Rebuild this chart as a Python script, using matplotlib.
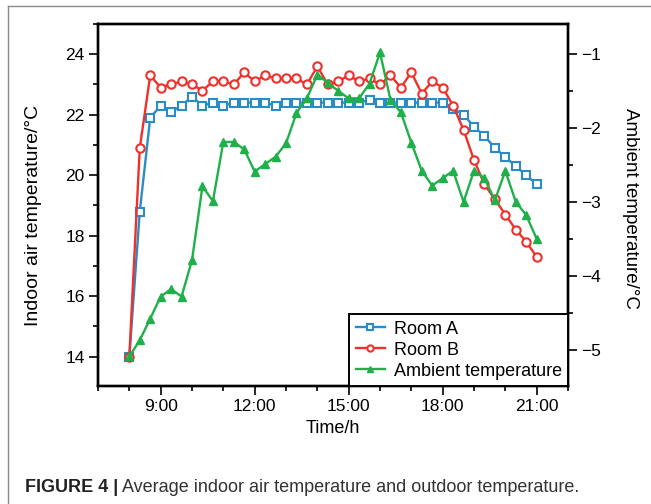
import matplotlib.pyplot as plt
from matplotlib.lines import Line2D
from matplotlib.ticker import MultipleLocator

plt.rcParams['font.family'] = ['Liberation Sans', 'DejaVu Sans']
plt.rcParams['axes.unicode_minus'] = True

# measurement times, every 20 minutes
times = ["8:00", "8:20", "8:40", "9:00", "9:20", "9:40", "10:00", "10:20", "10:40",
         "11:00", "11:20", "11:40", "12:00", "12:20", "12:40", "13:00", "13:20", "13:40",
         "14:00", "14:20", "14:40", "15:00", "15:20", "15:40", "16:00", "16:20", "16:40",
         "17:00", "17:20", "17:40", "18:00", "18:20", "18:40", "19:00", "19:20", "19:40",
         "20:00", "20:20", "20:40", "21:00"]

room_a = [14.0, 18.8, 21.9, 22.3, 22.1, 22.3, 22.6, 22.3, 22.4, 22.3,
          22.4, 22.4, 22.4, 22.4, 22.3, 22.4, 22.4, 22.4, 22.4, 22.4,
          22.4, 22.4, 22.4, 22.5, 22.4, 22.4, 22.4, 22.4, 22.4, 22.4,
          22.4, 22.2, 22.0, 21.6, 21.3, 20.9, 20.6, 20.3, 20.0, 19.7]

room_b = [14.0, 20.9, 23.3, 22.9, 23.0, 23.1, 23.0, 22.8, 23.1, 23.1,
          23.0, 23.4, 23.1, 23.3, 23.2, 23.2, 23.2, 23.0, 23.6, 23.0,
          23.1, 23.3, 23.1, 23.2, 23.0, 23.3, 22.9, 23.4, 22.7, 23.1,
          22.9, 22.3, 21.5, 20.5, 19.7, 19.2, 18.7, 18.2, 17.8, 17.3]

ambient = [-5.09, -4.87, -4.58, -4.28, -4.18, -4.28, -3.79, -2.79, -2.99, -2.19,
           -2.19, -2.29, -2.59, -2.49, -2.39, -2.21, -1.80, -1.60, -1.28, -1.39,
           -1.50, -1.60, -1.60, -1.40, -0.98, -1.62, -1.79, -2.20, -2.58, -2.78,
           -2.68, -2.58, -3.00, -2.58, -2.68, -2.98, -2.58, -3.00, -3.18, -3.50]

tick_hours = [9, 12, 15, 18, 21]
tick_labels = ["9:00", "12:00", "15:00", "18:00", "21:00"]

hours = [int(h) + int(m) / 60 for h, m in (t.split(":") for t in times)]

BLUE = "#2a8cc6"
RED = "#f0302a"
GREEN = "#1fb04a"

W, H = 651, 504
fig = plt.figure(figsize=(W / 100, H / 100), dpi=100)
ax = fig.add_axes([98 / W, 1 - 386 / H, (568 - 98) / W, (386 - 24) / H])
ax2 = ax.twinx()

la, = ax.plot(hours, room_a, color=BLUE, lw=1.7, marker="s", ms=5.5,
              mfc="white", mec=BLUE, mew=1.5)
lb, = ax.plot(hours, room_b, color=RED, lw=1.7, marker="o", ms=6,
              mfc="white", mec=RED, mew=1.5)
lc, = ax2.plot(hours, ambient, color=GREEN, lw=1.7, marker="^", ms=6,
               mfc=GREEN, mec=GREEN)

ax.set_xlim(7, 22)
ax.set_ylim(13.03, 25.0)
ax2.set_ylim(-5.49, -0.595)

ax.set_xticks(tick_hours)
ax.set_xticklabels(tick_labels)
ax.xaxis.set_minor_locator(MultipleLocator(1))
ax.yaxis.set_major_locator(MultipleLocator(2))
ax.yaxis.set_minor_locator(MultipleLocator(1))
ax2.yaxis.set_major_locator(MultipleLocator(1))
ax2.yaxis.set_minor_locator(MultipleLocator(0.5))

for a in (ax, ax2):
    for s in a.spines.values():
        s.set_linewidth(1.7)
    a.tick_params(which="major", length=6.5, width=1.2, labelsize=12.5, pad=3)
    a.tick_params(which="minor", length=3.5, width=1.2)

ax.set_xlabel("Time/h", fontsize=13, labelpad=4)
ax.set_ylabel("Indoor air temperature/\u00b0C", fontsize=14)
ax.yaxis.set_label_coords(-0.12, 0.47)
ax2.set_ylabel("Ambient temperature/\u00b0C", fontsize=13.5, rotation=270, va="center")
ax2.yaxis.set_label_coords(1.132, 0.49)

leg = ax2.legend([la, lb, lc], ["Room A", "Room B", "Ambient temperature"],
                 loc="lower right", borderaxespad=0, fancybox=False,
                 edgecolor="black", fontsize=13, handlelength=1.6,
                 markerscale=0.75, labelspacing=0.22, borderpad=0.35,
                 handletextpad=0.5)
leg.get_frame().set_linewidth(1.4)
leg.get_frame().set_alpha(1)

# frame lines of the figure panel
fig.add_artist(Line2D([8 / W, 8 / W], [0, 1 - 6 / H], color="#8a8a8a", lw=1))
fig.add_artist(Line2D([8 / W, 1], [1 - 6 / H, 1 - 6 / H], color="#8a8a8a", lw=1))

# caption
t1 = fig.text(25 / W, 1 - 488 / H, "FIGURE 4 |", fontsize=13, fontweight="bold",
              color="#222222", va="center")
fig.canvas.draw()
bb = t1.get_window_extent()
fig.text((bb.x1 + 4) / W, 1 - 488 / H,
         "Average indoor air temperature and outdoor temperature.",
         fontsize=13, color="#333333", va="center")

fig.savefig("out.png", dpi=100)
